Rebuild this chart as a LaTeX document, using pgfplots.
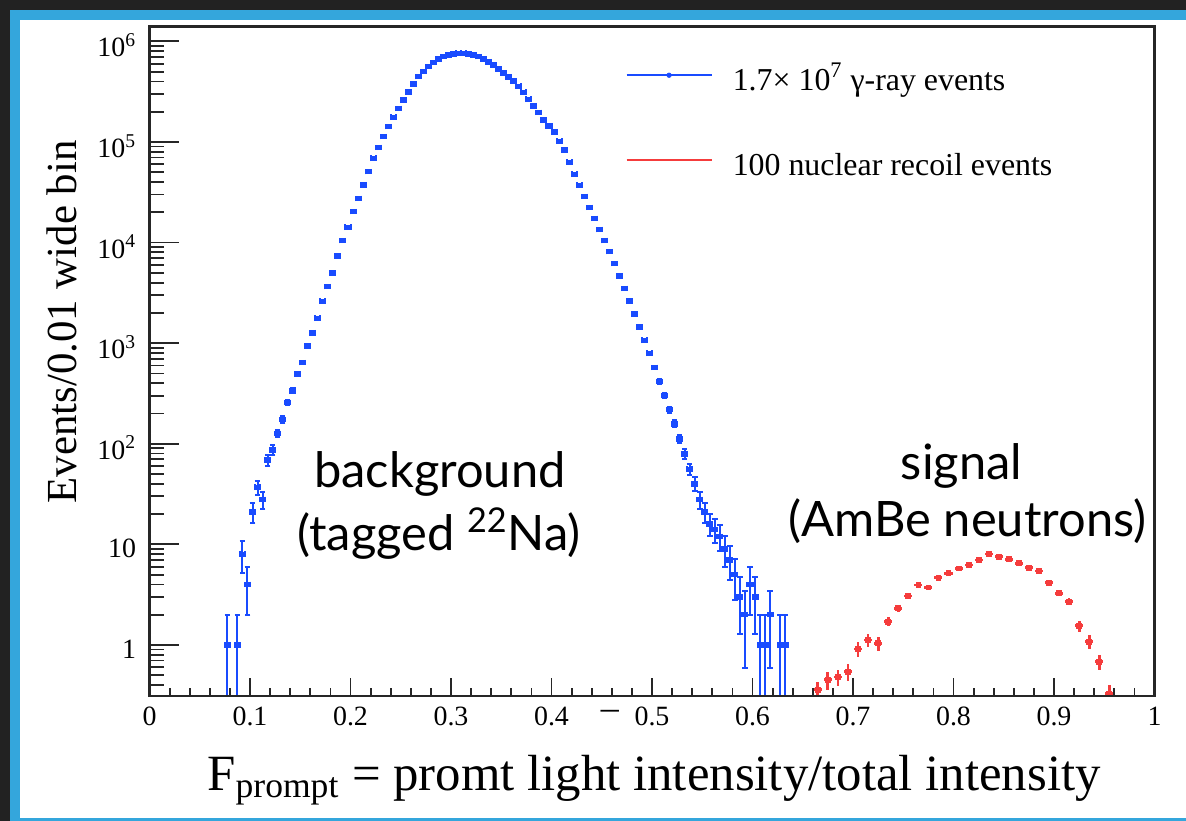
\documentclass[border=0pt]{standalone}
\usepackage{pgfplots}
\pgfplotsset{compat=1.18}
\usepackage{pgfplotstable}
\usepackage{fontspec}
\setmainfont{Liberation Serif}
\newfontfamily\latofont{Lato}
\definecolor{rootblue}{RGB}{25,75,255}
\definecolor{rootred}{RGB}{245,60,60}
\definecolor{framecol}{RGB}{52,166,220}
\definecolor{darkbg}{RGB}{34,34,34}

\pgfplotstableread{
x y ey
0.0775 1 0.99
0.0875 1 0.99
0.0925 8 2.83
0.0975 4 2
0.1025 21 4.6
0.1075 37 6.1
0.1125 28 5.3
0.1175 69 8.3
0.1225 87 9.3
0.1275 127 11.3
0.1325 175 13.2
0.1375 258 16.1
0.1425 337 18.4
0.1475 494 22.2
0.1525 640 25.3
0.1575 938 30.6
0.1625 1270 0
0.1675 1770 0
0.1725 2620 0
0.1775 3650 0
0.1825 5000 0
0.1875 7360 0
0.1925 10450 0
0.1975 14200 0
0.2025 20300 0
0.2075 27500 0
0.2125 37600 0
0.2175 50700 0
0.2225 68900 0
0.2275 88500 0
0.2325 113000 0
0.2375 142000 0
0.2425 176000 0
0.2475 216000 0
0.2525 261000 0
0.2575 316000 0
0.2625 378000 0
0.2675 446000 0
0.2725 500000 0
0.2775 561000 0
0.2825 619000 0
0.2875 668000 0
0.2925 705000 0
0.2975 733000 0
0.3025 750000 0
0.3075 762000 0
0.3125 762000 0
0.3175 752000 0
0.3225 733000 0
0.3275 705000 0
0.3325 668000 0
0.3375 628000 0
0.3425 582000 0
0.3475 531000 0
0.3525 484000 0
0.3575 442000 0
0.3625 403000 0
0.3675 359000 0
0.3725 313000 0
0.3775 266000 0
0.3825 229000 0
0.3875 197000 0
0.3925 166000 0
0.3975 145000 0
0.4025 126000 0
0.4075 102000 0
0.4125 83200 0
0.4175 63100 0
0.4225 47900 0
0.4275 37200 0
0.4325 28800 0
0.4375 22400 0
0.4425 17400 0
0.4475 13500 0
0.4525 10500 0
0.4575 8130 0
0.4625 6170 0
0.4675 4680 0
0.4725 3510 0
0.4775 2630 0
0.4825 1950 0
0.4875 1450 0
0.4925 1070 0
0.4975 794 28
0.5025 575 24
0.5075 417 20.4
0.5125 302 17.4
0.5175 219 14.8
0.5225 158 12.6
0.5275 112 10.6
0.5325 79 8.9
0.5375 56 7.5
0.5425 40 6.3
0.5475 28 5.3
0.5525 21 4.6
0.5575 16 4
0.5625 14 3.7
0.5675 12 3.5
0.5725 9 3
0.5775 7 2.6
0.5825 5 2.2
0.5875 3 1.7
0.5925 2 1.41
0.5975 4 2
0.6025 3 1.7
0.6075 1 0.99
0.6125 1 0.99
0.6175 2 1.41
0.6275 1 0.99
0.6325 1 0.99
}\bluedata

\pgfplotstableread{
x y ey
0.665 0.36 0.07
0.675 0.45 0.09
0.685 0.48 0.09
0.695 0.54 0.10
0.705 0.91 0.15
0.715 1.12 0.17
0.725 1.04 0.16
0.735 1.71 0.18
0.745 2.32 0.20
0.755 3.07 0.22
0.765 3.95 0.25
0.775 3.74 0.24
0.785 4.67 0.27
0.795 5.16 0.28
0.805 5.78 0.30
0.815 6.24 0.31
0.825 7.00 0.33
0.835 8.03 0.35
0.845 7.55 0.34
0.855 7.11 0.33
0.865 6.49 0.32
0.875 5.87 0.30
0.885 5.44 0.29
0.895 4.17 0.26
0.905 3.27 0.23
0.915 2.70 0.21
0.925 1.55 0.20
0.935 1.08 0.17
0.945 0.68 0.12
0.955 0.33 0.07
}\reddata

\begin{document}
\begin{tikzpicture}
\useasboundingbox (0,0) rectangle (593bp,410.5bp);
\fill[darkbg] (0,0) rectangle (593bp,410.5bp);
\fill[framecol] (5bp,0) rectangle (593bp,405.5bp);
\fill[white] (10bp,1.5bp) rectangle (593bp,400.5bp);

\begin{axis}[
  scale only axis, width=502.5bp, height=334.65bp,
  at={(74.75bp,62.5bp)}, anchor=south west,
  xmin=0, xmax=1, ymin=0.311, ymax=1.40e6, ymode=log,
  axis line style={line width=1.2bp, draw=black!85},
  tick style={line width=0.9bp, draw=black!85},
  tick align=inside,
  xtick=\empty,
  ytick={1,10,100,1000,10000,100000,1000000},
  yticklabels={1,10,10\textsuperscript{2},10\textsuperscript{3},10\textsuperscript{4},10\textsuperscript{5},10\textsuperscript{6}},
  minor ytick={0.4,0.5,0.6,0.7,0.8,0.9,2,3,4,5,6,7,8,9,20,30,40,50,60,70,80,90,200,300,400,500,600,700,800,900,2000,3000,4000,5000,6000,7000,8000,9000,20000,30000,40000,50000,60000,70000,80000,90000,200000,300000,400000,500000,600000,700000,800000,900000},
  ytick pos=left,
  major tick length=15bp, minor tick length=7.5bp,
  yticklabel style={font=\fontsize{14}{14}\selectfont, inner sep=0pt, xshift=-6.5bp, yshift=-2bp},
  ylabel={Events/0.01 wide bin},
  ylabel style={at={(rel axis cs:-0.0871,0.559)}, anchor=center, font=\fontsize{21.5}{21.5}\selectfont},
  legend style={draw=none, fill=none, inner sep=0pt, at={(rel axis cs:0.4731,0.9415)}, anchor=north west,
    font=\fontsize{16}{16}\selectfont, cells={anchor=base west},
    nodes={inner sep=0pt, text height=12bp, text depth=4bp},
    row sep=26.5bp, column sep=10bp},
]
\addlegendimage{legend image code/.code={\draw[rootblue, line width=1.2bp] (0bp,7.5bp) -- (42.5bp,7.5bp); \fill[rootblue] (21.25bp,7.5bp) circle (1.1bp);}}
\addlegendentry{1.7× 10\textsuperscript{7} γ-ray events}
\addlegendimage{legend image code/.code={\draw[rootred, line width=1.2bp] (0bp,7.5bp) -- (42.5bp,7.5bp);}}
\addlegendentry{100 nuclear recoil events}

\addplot[rootblue, only marks, mark=square*, mark size=1.1bp, forget plot,
  error bars/.cd, x dir=both, x fixed=0.0025, y dir=both, y explicit,
  error bar style={line width=1bp, rootblue},
  error mark options={rotate=90, rootblue, mark size=1.4bp, line width=1bp}]
  table[x=x, y=y, y error=ey] {\bluedata};

\addplot[rootred, only marks, mark=square*, mark size=1.2bp, forget plot,
  error bars/.cd, x dir=both, x fixed=0.004, y dir=both, y explicit,
  error mark=none, error bar style={line width=1.4bp, rootred}]
  table[x=x, y=y, y error=ey] {\reddata};

\node[font=\latofont\fontsize{24.5}{24.5}\selectfont, anchor=base] at (rel axis cs:0.289,0.311) {background};
\node[font=\latofont\fontsize{24.5}{24.5}\selectfont, anchor=base] at (rel axis cs:0.288,0.218) {(tagged \textsuperscript{22}Na)};
\node[font=\latofont\fontsize{24.5}{24.5}\selectfont, anchor=base] at (rel axis cs:0.808,0.323) {signal};
\node[font=\latofont\fontsize{24.5}{24.5}\selectfont, anchor=base] at (rel axis cs:0.814,0.2377) {(AmBe neutrons)};
\end{axis}

\begin{axis}[
  scale only axis, width=502.5bp, height=334.65bp,
  at={(74.75bp,62.5bp)}, anchor=south west,
  xmin=0, xmax=1, ymin=0.311, ymax=1.40e6, ymode=log,
  axis line style={line width=1.2bp, draw=black!85},
  tick style={line width=0.9bp, draw=black!85},
  tick align=inside,
  clip=false,
  hide y axis,
  xtick={0,0.1,0.2,0.3,0.4,0.5,0.6,0.7,0.8,0.9,1},
  xticklabels={0,0.1,0.2,0.3,0.4,0.5,0.6,0.7,0.8,0.9,1},
  minor x tick num=4,
  xtick pos=left,
  major tick length=9bp, minor tick length=4bp,
  xticklabel style={font=\fontsize{14}{14}\selectfont, inner sep=0pt, yshift=-5.3bp},
  xlabel={F\textsubscript{prompt} = promt light intensity/total intensity},
  xlabel style={at={(rel axis cs:0.0572,-0.1405)}, anchor=base west, inner sep=0pt, font=\fontsize{25.5}{25.5}\selectfont},
]
\node[font=\fontsize{18}{18}\selectfont, anchor=base, inner sep=0pt] at (rel axis cs:0.458,-0.0179) {\_};
\end{axis}
\end{tikzpicture}
\end{document}
